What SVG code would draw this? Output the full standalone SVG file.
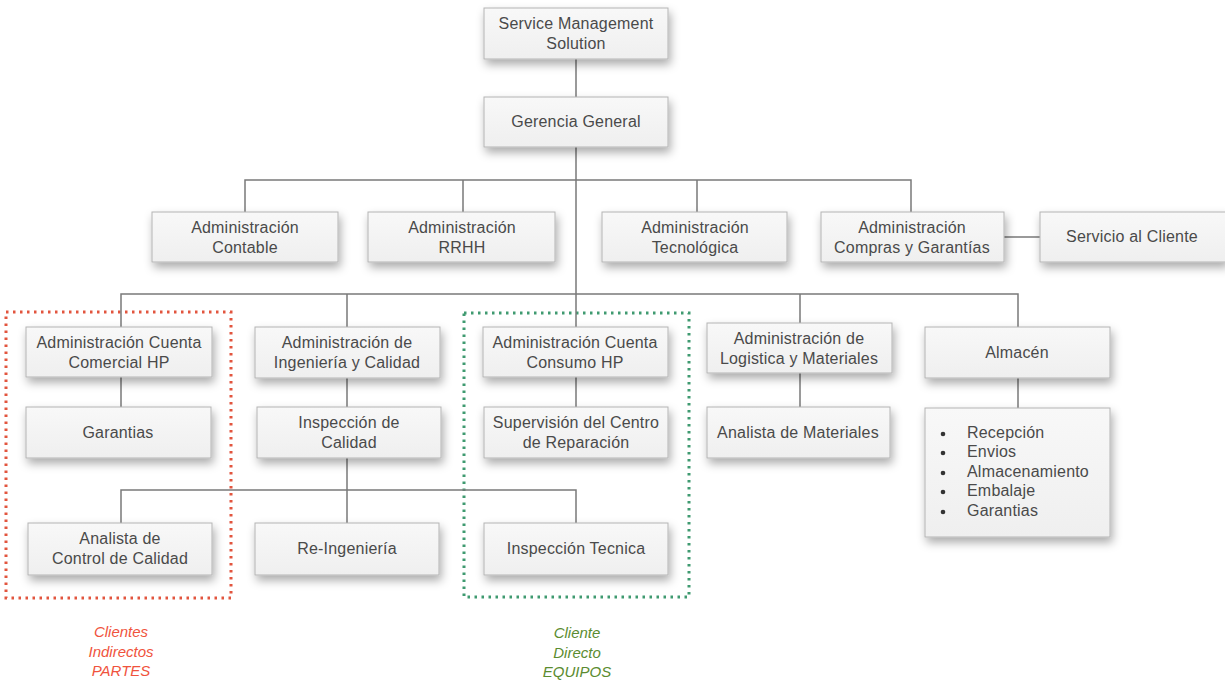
<svg xmlns="http://www.w3.org/2000/svg" width="1225" height="681" viewBox="0 0 1225 681">
<defs>
<linearGradient id="g" x1="0" y1="0" x2="0" y2="1">
<stop offset="0" stop-color="#f8f8f8"/>
<stop offset="1" stop-color="#efefef"/>
</linearGradient>
<filter id="sh" x="-20%" y="-30%" width="140%" height="170%">
<feDropShadow dx="2" dy="5" stdDeviation="5" flood-color="#000" flood-opacity="0.33"/>
</filter>
</defs>
<style>
.box{fill:url(#g);stroke:#b4b4b4;stroke-width:1;filter:url(#sh)}
.t{font-family:"Liberation Sans",Arial,sans-serif;font-size:16px;letter-spacing:0.2px;fill:#4a4a4a;text-anchor:middle}
.tl{font-family:"Liberation Sans",Arial,sans-serif;font-size:16px;letter-spacing:0.2px;fill:#4a4a4a}
.c{fill:none;stroke:#7a7a7a;stroke-width:1.5}
.red{fill:none;stroke:#e2553e;stroke-width:3;stroke-dasharray:2.5 4.5}
.grn{fill:none;stroke:#3f9a70;stroke-width:3;stroke-dasharray:2.5 4.5}
.lr{font-family:"Liberation Sans",Arial,sans-serif;font-size:15px;font-style:italic;fill:#f0533d;text-anchor:middle}
.lg{font-family:"Liberation Sans",Arial,sans-serif;font-size:15px;font-style:italic;fill:#5b8c30;text-anchor:middle}
</style>
<rect width="1225" height="681" fill="#ffffff"/>
<g id="groups">
<rect class="red" x="6" y="312" width="225" height="286"/>
<rect class="grn" x="464" y="313" width="225" height="284"/>
</g>
<g id="connectors">
<path class="c" d="M576 59V97M576 147V294M245 212V180H911V212M463 180V212M697 180V212M1004 237H1040M121 327V294H1018V327M347 294V327M576 294V327M800 294V323M121 377V407M347 378V407M576 377V407M800 373V407M1018 378V408M347 458V490M121 523V490H576V523M347 490V523"/>
</g>
<g id="n-sms"><rect class="box" x="484" y="8" width="184" height="51"/><text class="t" x="576" y="29">Service Management</text><text class="t" x="576" y="49">Solution</text></g>
<g id="n-gg"><rect class="box" x="484" y="97" width="184" height="50"/><text class="t" x="576" y="127">Gerencia General</text></g>
<g id="n-contable"><rect class="box" x="152" y="212" width="186" height="50"/><text class="t" x="245" y="233">Administración</text><text class="t" x="245" y="253">Contable</text></g>
<g id="n-rrhh"><rect class="box" x="368" y="212" width="187" height="50"/><text class="t" x="462" y="233">Administración</text><text class="t" x="462" y="253">RRHH</text></g>
<g id="n-tec"><rect class="box" x="602" y="212" width="185" height="50"/><text class="t" x="695" y="233">Administración</text><text class="t" x="695" y="253">Tecnológica</text></g>
<g id="n-compras"><rect class="box" x="821" y="212" width="183" height="50"/><text class="t" x="912" y="233">Administración</text><text class="t" x="912" y="253">Compras y Garantías</text></g>
<g id="n-servicio"><rect class="box" x="1040" y="212" width="186" height="50"/><text class="t" x="1132" y="242">Servicio al Cliente</text></g>
<g id="n-comercial"><rect class="box" x="26" y="327" width="186" height="50"/><text class="t" x="119" y="348">Administración Cuenta</text><text class="t" x="119" y="368">Comercial HP</text></g>
<g id="n-ingenieria"><rect class="box" x="255" y="327" width="185" height="51"/><text class="t" x="347" y="348">Administración de</text><text class="t" x="347" y="368">Ingeniería y Calidad</text></g>
<g id="n-consumo"><rect class="box" x="483" y="327" width="185" height="50"/><text class="t" x="575" y="348">Administración Cuenta</text><text class="t" x="575" y="368">Consumo HP</text></g>
<g id="n-logistica"><rect class="box" x="707" y="323" width="185" height="50"/><text class="t" x="799" y="344">Administración de</text><text class="t" x="799" y="364">Logistica y Materiales</text></g>
<g id="n-almacen"><rect class="box" x="925" y="327" width="185" height="51"/><text class="t" x="1017" y="358">Almacén</text></g>
<g id="n-garantias"><rect class="box" x="26" y="407" width="185" height="51"/><text class="t" x="118" y="438">Garantias</text></g>
<g id="n-inspcal"><rect class="box" x="257" y="407" width="184" height="51"/><text class="t" x="349" y="428">Inspección de</text><text class="t" x="349" y="448">Calidad</text></g>
<g id="n-supervision"><rect class="box" x="484" y="407" width="184" height="51"/><text class="t" x="576" y="428">Supervisión del Centro</text><text class="t" x="576" y="448">de Reparación</text></g>
<g id="n-analistamat"><rect class="box" x="707" y="407" width="183" height="51"/><text class="t" x="798" y="438">Analista de Materiales</text></g>
<g id="n-lista"><rect class="box" x="925" y="408" width="185" height="129"/>
<g fill="#333"><circle cx="943" cy="434" r="2.3"/><circle cx="943" cy="453" r="2.3"/><circle cx="943" cy="473" r="2.3"/><circle cx="943" cy="492" r="2.3"/><circle cx="943" cy="512" r="2.3"/></g>
<text class="tl" x="967" y="438">Recepción</text><text class="tl" x="967" y="457">Envios</text><text class="tl" x="967" y="477">Almacenamiento</text><text class="tl" x="967" y="496">Embalaje</text><text class="tl" x="967" y="516">Garantias</text></g>
<g id="n-analistacc"><rect class="box" x="28" y="523" width="184" height="52"/><text class="t" x="120" y="544">Analista de</text><text class="t" x="120" y="564">Control de Calidad</text></g>
<g id="n-reing"><rect class="box" x="255" y="523" width="184" height="52"/><text class="t" x="347" y="554">Re-Ingeniería</text></g>
<g id="n-insptec"><rect class="box" x="484" y="523" width="184" height="52"/><text class="t" x="576" y="554">Inspección Tecnica</text></g>
<g id="labels">
<text class="lr" x="121" y="637">Clientes</text><text class="lr" x="121" y="657">Indirectos</text><text class="lr" x="121" y="676">PARTES</text>
<text class="lg" x="577" y="638">Cliente</text><text class="lg" x="577" y="658">Directo</text><text class="lg" x="577" y="677">EQUIPOS</text>
</g>
</svg>
